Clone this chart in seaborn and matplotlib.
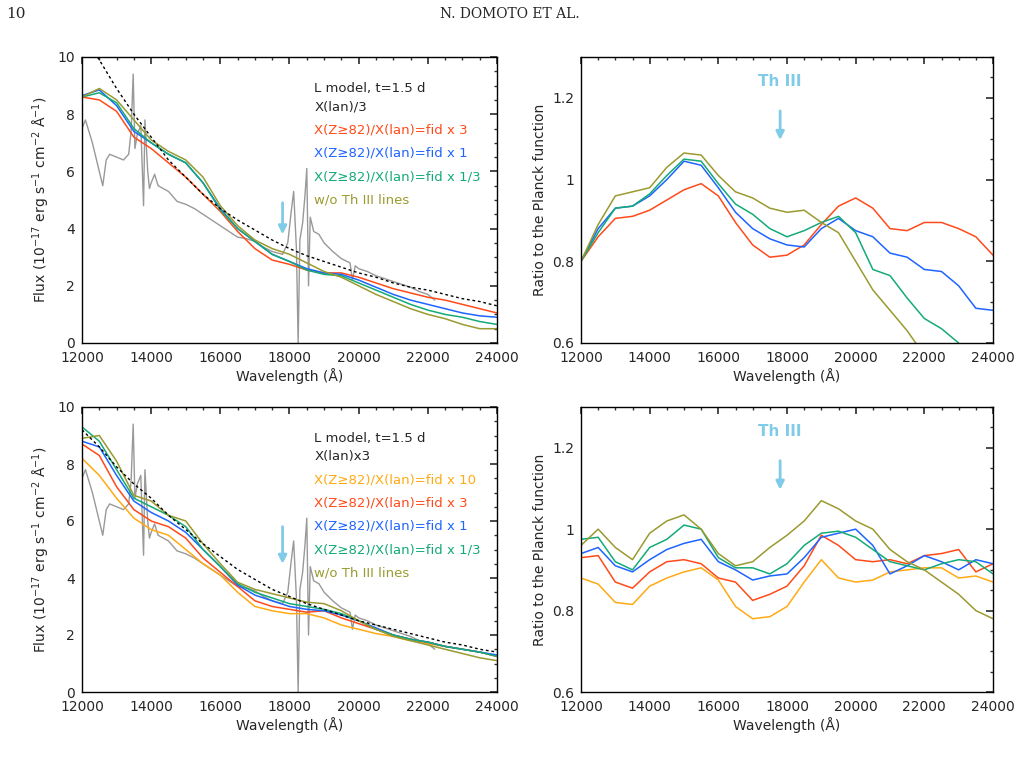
import numpy as np
import pandas as pd
import seaborn as sns
import matplotlib.pyplot as plt
from matplotlib.ticker import AutoMinorLocator

sns.set_theme(style="white")
plt.rcParams["font.family"] = ["DejaVu Sans"]

wave = list(range(12000, 24001, 500))

# top-left: X(lan)/3 fluxes
top_flux = {
    "fid x 3": [8.6, 8.5, 8.1, 7.2, 6.8, 6.3, 5.8, 5.2, 4.6, 3.9, 3.3, 2.9, 2.75, 2.55, 2.45, 2.45, 2.3, 2.1, 1.9, 1.75, 1.6, 1.5, 1.35, 1.2, 1.05],
    "fid x 1": [8.65, 8.85, 8.3, 7.4, 7.0, 6.6, 6.3, 5.6, 4.7, 4.0, 3.55, 3.1, 2.85, 2.6, 2.45, 2.4, 2.2, 1.95, 1.7, 1.5, 1.35, 1.2, 1.05, 0.95, 0.9],
    "fid x 1/3": [8.6, 8.75, 8.4, 7.5, 7.0, 6.6, 6.3, 5.6, 4.65, 4.0, 3.55, 3.1, 2.85, 2.55, 2.4, 2.35, 2.1, 1.85, 1.6, 1.35, 1.15, 1.0, 0.9, 0.75, 0.65],
    "w/o Th III": [8.6, 8.9, 8.5, 7.8, 7.1, 6.7, 6.4, 5.8, 4.8, 4.1, 3.6, 3.3, 3.1, 2.8, 2.5, 2.3, 2.0, 1.7, 1.45, 1.2, 1.0, 0.85, 0.65, 0.5, 0.5],
}
top_planck = [10.8, 9.9, 8.9, 8.0, 7.2, 6.4, 5.8, 5.2, 4.7, 4.3, 3.95, 3.6, 3.3, 3.05, 2.85, 2.65, 2.45, 2.3, 2.1, 1.95, 1.85, 1.7, 1.55, 1.45, 1.3]

# bottom-left: X(lan)x3 fluxes
bot_flux = {
    "fid x 10": [8.2, 7.6, 6.8, 6.1, 5.7, 5.5, 5.0, 4.5, 4.1, 3.5, 3.0, 2.85, 2.75, 2.75, 2.6, 2.35, 2.2, 2.05, 1.95, 1.8, 1.7, 1.6, 1.5, 1.4, 1.25],
    "fid x 3": [8.7, 8.3, 7.2, 6.4, 6.0, 5.8, 5.4, 4.7, 4.2, 3.7, 3.2, 3.0, 2.9, 2.8, 2.85, 2.6, 2.4, 2.2, 2.0, 1.85, 1.75, 1.6, 1.5, 1.4, 1.25],
    "fid x 1": [8.8, 8.6, 7.6, 6.7, 6.3, 6.0, 5.6, 5.0, 4.4, 3.75, 3.4, 3.2, 3.0, 2.9, 2.85, 2.7, 2.5, 2.25, 2.0, 1.85, 1.75, 1.6, 1.5, 1.4, 1.3],
    "fid x 1/3": [9.3, 8.8, 7.8, 6.8, 6.5, 6.2, 5.8, 5.0, 4.4, 3.8, 3.5, 3.3, 3.1, 3.0, 2.9, 2.75, 2.5, 2.2, 2.0, 1.85, 1.75, 1.6, 1.5, 1.4, 1.25],
    "w/o Th III": [8.9, 9.0, 8.1, 6.9, 6.7, 6.2, 6.0, 5.2, 4.5, 3.85, 3.6, 3.45, 3.3, 3.15, 3.1, 2.85, 2.5, 2.2, 1.95, 1.8, 1.65, 1.5, 1.35, 1.2, 1.1],
}
bot_planck = [9.2, 8.6, 7.9, 7.3, 6.8, 6.2, 5.7, 5.2, 4.75, 4.3, 3.95, 3.6, 3.35, 3.1, 2.9, 2.7, 2.5, 2.35, 2.2, 2.05, 1.9, 1.75, 1.65, 1.5, 1.4]

# observed spectrum (grey)
obs_wave = [12000, 12100, 12300, 12500, 12600, 12700, 12800, 13000, 13200, 13350, 13420, 13480, 13530, 13600, 13700, 13780, 13820, 13900, 13950,
            14000, 14100, 14200, 14350, 14500, 14750, 15000, 15250, 15500, 15750, 16000, 16250, 16500, 16750, 17000, 17250, 17500,
            17800, 17950, 18050, 18120, 18200, 18250, 18300, 18380, 18450, 18500, 18550, 18600, 18700, 18850, 19000, 19250, 19500,
            19750, 19820, 19900, 20000, 20250, 20500, 20750, 21000, 21250, 21500, 21750, 22000, 22200]
obs_flux = [7.5, 7.8, 7.0, 6.0, 5.5, 6.4, 6.6, 6.5, 6.4, 6.6, 7.4, 9.4, 6.8, 7.3, 7.6, 4.8, 7.8, 6.0, 5.4,
            5.6, 5.9, 5.5, 5.4, 5.3, 4.95, 4.85, 4.7, 4.5, 4.3, 4.1, 3.9, 3.7, 3.65, 3.55, 3.35, 3.2,
            3.1, 3.5, 4.6, 5.3, 3.3, 0.0, 3.6, 4.2, 5.2, 6.1, 2.0, 4.4, 3.9, 3.8, 3.5, 3.2, 2.95,
            2.8, 2.2, 2.7, 2.6, 2.5, 2.35, 2.25, 2.15, 2.05, 1.95, 1.8, 1.7, 1.5]

# ratio to Planck
top_ratio = {
    "fid x 3": [0.80, 0.86, 0.905, 0.91, 0.925, 0.95, 0.975, 0.99, 0.96, 0.895, 0.84, 0.81, 0.815, 0.84, 0.89, 0.935, 0.955, 0.93, 0.88, 0.875, 0.895, 0.895, 0.88, 0.86, 0.815],
    "fid x 1": [0.80, 0.88, 0.93, 0.935, 0.96, 1.0, 1.045, 1.035, 0.98, 0.92, 0.88, 0.855, 0.84, 0.835, 0.88, 0.905, 0.875, 0.86, 0.82, 0.81, 0.78, 0.775, 0.74, 0.685, 0.68],
    "fid x 1/3": [0.80, 0.87, 0.93, 0.935, 0.965, 1.01, 1.05, 1.045, 0.99, 0.94, 0.915, 0.88, 0.86, 0.875, 0.895, 0.91, 0.87, 0.78, 0.765, 0.71, 0.66, 0.635, 0.6, 0.55, 0.5],
    "w/o Th III": [0.80, 0.89, 0.96, 0.97, 0.98, 1.03, 1.065, 1.06, 1.01, 0.97, 0.955, 0.93, 0.92, 0.925, 0.895, 0.87, 0.8, 0.73, 0.68, 0.63, 0.57, 0.5, 0.45, 0.4, 0.35],
}
bot_ratio = {
    "fid x 10": [0.88, 0.865, 0.82, 0.815, 0.86, 0.88, 0.895, 0.905, 0.875, 0.81, 0.78, 0.785, 0.81, 0.87, 0.925, 0.88, 0.87, 0.875, 0.895, 0.9, 0.905, 0.905, 0.88, 0.885, 0.87],
    "fid x 3": [0.93, 0.935, 0.87, 0.855, 0.895, 0.92, 0.925, 0.915, 0.88, 0.87, 0.825, 0.84, 0.86, 0.91, 0.985, 0.96, 0.925, 0.92, 0.925, 0.915, 0.935, 0.94, 0.95, 0.895, 0.915],
    "fid x 1": [0.94, 0.955, 0.91, 0.895, 0.925, 0.95, 0.965, 0.975, 0.92, 0.9, 0.875, 0.885, 0.89, 0.93, 0.98, 0.99, 1.0, 0.96, 0.89, 0.91, 0.935, 0.92, 0.9, 0.925, 0.915],
    "fid x 1/3": [0.975, 0.98, 0.92, 0.9, 0.955, 0.975, 1.01, 1.0, 0.93, 0.905, 0.905, 0.89, 0.915, 0.96, 0.99, 0.995, 0.98, 0.95, 0.92, 0.91, 0.9, 0.915, 0.925, 0.92, 0.89],
    "w/o Th III": [0.96, 1.0, 0.955, 0.925, 0.99, 1.02, 1.035, 1.0, 0.94, 0.91, 0.92, 0.955, 0.985, 1.02, 1.07, 1.05, 1.02, 1.0, 0.95, 0.92, 0.9, 0.87, 0.84, 0.8, 0.78],
}

colors = {"fid x 10": "#ffaa14", "fid x 3": "#ff4a1a", "fid x 1": "#1e64ff",
          "fid x 1/3": "#14aa78", "w/o Th III": "#9a9a30"}
arrow_c = "#80cbe8"

fig = plt.figure(figsize=(10.19, 7.64), dpi=100)
W, H = 1019, 764
def add_ax(x0, y0, x1, y1):
    return fig.add_axes([x0 / W, 1 - y1 / H, (x1 - x0) / W, (y1 - y0) / H])

ax_tl = add_ax(82, 57, 497, 343)
ax_tr = add_ax(581, 57, 993, 343)
ax_bl = add_ax(82, 407, 497, 692)
ax_br = add_ax(581, 407, 993, 692)

fig.text(6 / W, 1 - 14 / H, "10", fontsize=11, family="DejaVu Serif", va="center")
fig.text(0.5, 1 - 14 / H, "N. DOMOTO ET AL.", fontsize=10, family="DejaVu Serif", ha="center", va="center")

def style(ax, ylim, yticks, ylabel, ylabfmt=None):
    ax.set_xlim(12000, 24000)
    ax.set_ylim(*ylim)
    ax.set_xticks(range(12000, 24001, 2000))
    ax.set_yticks(yticks)
    if ylabfmt:
        ax.set_yticklabels(ylabfmt)
    ax.xaxis.set_minor_locator(AutoMinorLocator(4))
    ax.yaxis.set_minor_locator(AutoMinorLocator(4))
    ax.tick_params(which="both", direction="in", top=True, right=True, labelsize=10, color="#333333")
    ax.tick_params(which="major", length=5)
    ax.tick_params(which="minor", length=2.5)
    ax.tick_params(axis="x", pad=6)
    ax.tick_params(axis="y", pad=5)
    ax.set_xlabel("Wavelength (Å)", fontsize=10, labelpad=2)
    ax.set_ylabel(ylabel, fontsize=10)
    for s in ax.spines.values():
        s.set_color("black")
        s.set_linewidth(1)

flux_label = r"Flux (10$^{-17}$ erg s$^{-1}$ cm$^{-2}$ Å$^{-1}$)"

def flux_panel(ax, models, planck, title2, arrow_y):
    sns.lineplot(x=obs_wave, y=obs_flux, ax=ax, color="#999999", lw=1.0)
    for name, vals in models.items():
        sns.lineplot(x=wave, y=vals, ax=ax, color=colors[name], lw=1.1)
    sns.lineplot(x=wave, y=planck, ax=ax, color="black", lw=1, linestyle=(0, (2, 2)))
    ax.annotate("", xy=(17800, arrow_y[1]), xytext=(17800, arrow_y[0]),
                arrowprops=dict(arrowstyle="-|>", color=arrow_c, lw=2, mutation_scale=12))
    style(ax, (0, 10), [0, 2, 4, 6, 8, 10], flux_label)
    ax.text(0.56, 0.89, "L model, t=1.5 d", transform=ax.transAxes, fontsize=9.5, va="center")
    ax.text(0.56, 0.825, title2, transform=ax.transAxes, fontsize=9.5, va="center")
    y = 0.745
    for name in models:
        lab = "w/o Th III lines" if name == "w/o Th III" else "X(Z≥82)/X(lan)=" + name
        ax.text(0.56, y, lab, transform=ax.transAxes, fontsize=9.5, va="center", color=colors[name])
        y -= 0.082

def ratio_panel(ax, models):
    for name, vals in models.items():
        sns.lineplot(x=wave, y=vals, ax=ax, color=colors[name], lw=1.1)
    ax.annotate("", xy=(17800, 1.09), xytext=(17800, 1.175),
                arrowprops=dict(arrowstyle="-|>", color=arrow_c, lw=2, mutation_scale=12))
    ax.text(17800, 1.24, "Th III", ha="center", va="center", color=arrow_c, fontsize=11, fontweight="bold")
    style(ax, (0.6, 1.3), [0.6, 0.8, 1.0, 1.2], "Ratio to the Planck function", ["0.6", "0.8", "1", "1.2"])

flux_panel(ax_tl, top_flux, top_planck, "X(lan)/3", (5.0, 3.7))
flux_panel(ax_bl, bot_flux, bot_planck, "X(lan)x3", (5.9, 4.4))
ratio_panel(ax_tr, top_ratio)
ratio_panel(ax_br, bot_ratio)

fig.savefig("out.png", dpi=100)
